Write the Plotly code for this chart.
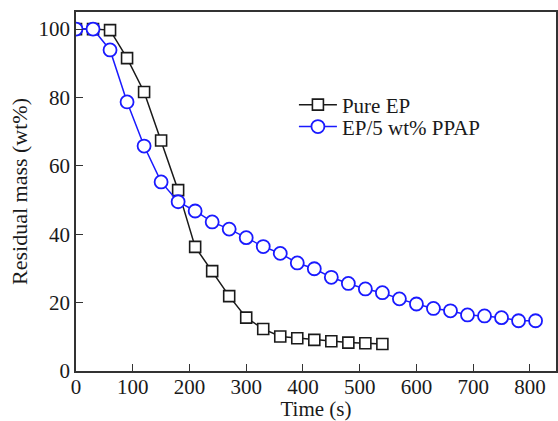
import plotly.graph_objects as go

time_ep = [0, 30, 60, 90, 120, 150, 180, 210, 240, 270, 300, 330, 360, 390, 420, 450, 480, 510, 540]
mass_ep = [100, 100, 99.7, 91.5, 81.6, 67.4, 52.9, 36.3, 29.2, 21.9, 15.6, 12.3, 10.1, 9.6, 9.1, 8.7, 8.3, 8.1, 7.9]

time_ppap = [0, 30, 60, 90, 120, 150, 180, 210, 240, 270, 300, 330, 360, 390, 420, 450, 480,
             510, 540, 570, 600, 630, 660, 690, 720, 750, 780, 810]
mass_ppap = [100, 100, 93.9, 78.7, 65.8, 55.3, 49.5, 46.8, 43.6, 41.5, 39.0, 36.4, 34.4, 31.6, 29.9,
             27.4, 25.6, 24.0, 22.9, 21.1, 19.6, 18.3, 17.6, 16.4, 16.1, 15.6, 14.7, 14.7]

font_family = "Liberation Serif, Times New Roman, serif"

fig = go.Figure()
fig.add_trace(go.Scatter(
    x=time_ep, y=mass_ep, name="Pure EP", mode="lines+markers", legend="legend",
    line=dict(color="#1a1a1a", width=1.5),
    marker=dict(symbol="square", size=11, color="white", line=dict(color="#1a1a1a", width=1.6)),
))
fig.add_trace(go.Scatter(
    x=time_ppap, y=mass_ppap, name="EP/5 wt% PPAP", mode="lines+markers", legend="legend2",
    line=dict(color="#1a1aff", width=1.5),
    marker=dict(symbol="circle", size=13, color="white", line=dict(color="#1a1aff", width=1.8)),
))

leg_common = dict(xanchor="left", yanchor="top", bgcolor="rgba(0,0,0,0)",
                  font=dict(size=21, family=font_family), itemwidth=38)

fig.update_layout(
    width=558, height=421,
    margin=dict(l=76, r=0, t=12, b=48),
    paper_bgcolor="white", plot_bgcolor="white",
    font=dict(family=font_family, size=20, color="#1a1a1a"),
    showlegend=True,
    legend=dict(x=0.454, y=0.798, **leg_common),
    legend2=dict(x=0.454, y=0.737, **leg_common),
    xaxis=dict(
        range=[0, 846], tickvals=[0, 100, 200, 300, 400, 500, 600, 700, 800],
        ticks="inside", ticklen=7, tickwidth=1.3, tickcolor="#333",
        showline=True, linecolor="#333", linewidth=1.5, mirror=True,
        showgrid=False, zeroline=False, ticklabelstandoff=-4,
        title=dict(text="Time (s)", font=dict(size=21), standoff=7),
        tickfont=dict(size=21),
    ),
    yaxis=dict(
        range=[0, 105], tickvals=[0, 20, 40, 60, 80, 100],
        ticks="inside", ticklen=7, tickwidth=1.3, tickcolor="#333",
        showline=True, linecolor="#333", linewidth=1.5, mirror=True,
        showgrid=False, zeroline=False,
        title=dict(text="Residual mass (wt%)", font=dict(size=22), standoff=5),
        tickfont=dict(size=21),
    ),
)

fig.write_html("out.html")
